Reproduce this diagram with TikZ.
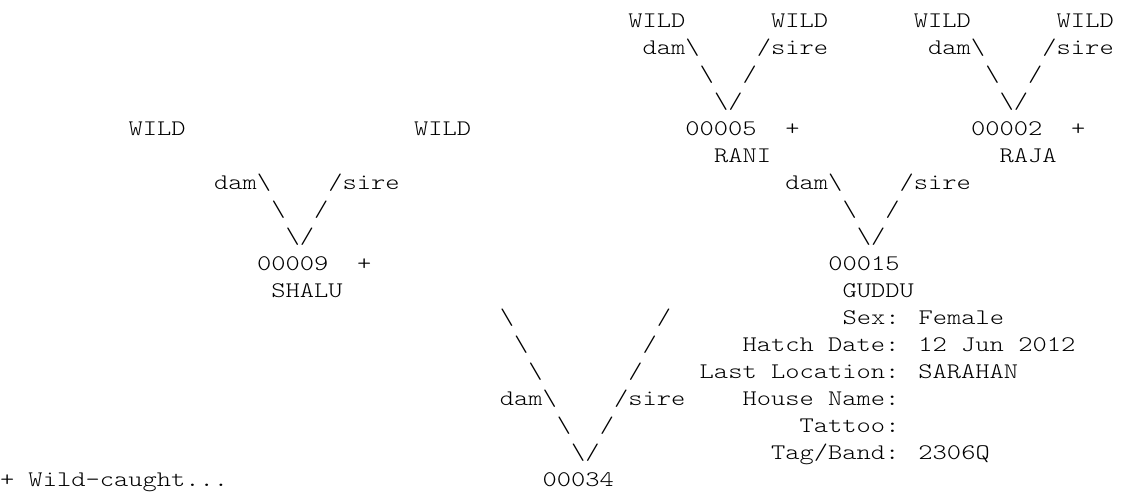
\documentclass[tikz,border=0pt]{standalone}
\usepackage{fontspec}
\newfontfamily\pedfont[FakeStretch=1.22]{lmmonolt10-regular.otf}
\newcommand\pbs{\symbol{92}}
\begin{document}
\begin{tikzpicture}[x={(10.71pt,0)},y={(0,-20.25pt)},
  t/.style={inner sep=0pt,outer sep=0pt,anchor=base west,text=black,
    font=\pedfont\fontsize{16.7pt}{20.25pt}\selectfont}]
\useasboundingbox (0pt,0pt) rectangle (840.75pt,-372pt);
% line 1: great-grandparents
\node[t] (gg1) at (44,1) {WILD};
\node[t] (gg2) at (54,1) {WILD};
\node[t] (gg3) at (64,1) {WILD};
\node[t] (gg4) at (74,1) {WILD};
% line 2
\node[t] (d5) at (45,2) {dam\pbs};
\node[t] (s5) at (53,2) {/sire};
\node[t] (d2) at (65,2) {dam\pbs};
\node[t] (s2) at (73,2) {/sire};
% line 3
\node[t] (l5a) at (49,3) {\pbs};
\node[t] (r5a) at (52,3) {/};
\node[t] (l2a) at (69,3) {\pbs};
\node[t] (r2a) at (72,3) {/};
% line 4
\node[t] (v5) at (50,4) {\pbs/};
\node[t] (v2) at (70,4) {\pbs/};
% line 5: grandparents
\node[t] (w1) at (9,5) {WILD};
\node[t] (w2) at (29,5) {WILD};
\node[t] (id5) at (48,5) {00005};
\node[t] (p5) at (55,5) {+};
\node[t] (id2) at (68,5) {00002};
\node[t] (p2) at (75,5) {+};
% line 6
\node[t] (rani) at (50,6) {RANI};
\node[t] (raja) at (70,6) {RAJA};
% line 7
\node[t] (d9) at (15,7) {dam\pbs};
\node[t] (s9) at (23,7) {/sire};
\node[t] (d15) at (55,7) {dam\pbs};
\node[t] (s15) at (63,7) {/sire};
% line 8
\node[t] (l9a) at (19,8) {\pbs};
\node[t] (r9a) at (22,8) {/};
\node[t] (l15a) at (59,8) {\pbs};
\node[t] (r15a) at (62,8) {/};
% line 9
\node[t] (v9) at (20,9) {\pbs/};
\node[t] (v15) at (60,9) {\pbs/};
% line 10: parents
\node[t] (id9) at (18,10) {00009};
\node[t] (p9) at (25,10) {+};
\node[t] (id15) at (58,10) {00015};
% line 11
\node[t] (shalu) at (19,11) {SHALU};
\node[t] (guddu) at (59,11) {GUDDU};
% lines 12-17: connector to subject and info block
\node[t] (l34a) at (35,12) {\pbs};
\node[t] (r34a) at (46,12) {/};
\node[t] (sex) at (59,12) {Sex: Female};
\node[t] (l34b) at (36,13) {\pbs};
\node[t] (r34b) at (45,13) {/};
\node[t] (hatch) at (52,13) {Hatch Date: 12 Jun 2012};
\node[t] (l34c) at (37,14) {\pbs};
\node[t] (r34c) at (44,14) {/};
\node[t] (loc) at (49,14) {Last Location: SARAHAN};
\node[t] (d34) at (35,15) {dam\pbs};
\node[t] (s34) at (43,15) {/sire};
\node[t] (house) at (52,15) {House Name:};
\node[t] (l34e) at (39,16) {\pbs};
\node[t] (r34e) at (42,16) {/};
\node[t] (tattoo) at (56,16) {Tattoo:};
\node[t] (v34) at (40,17) {\pbs/};
\node[t] (tag) at (54,17) {Tag/Band: 2306Q};
% line 18: subject
\node[t] (legend) at (0,18) {+ Wild-caught...};
\node[t] (id34) at (38,18) {00034};
\end{tikzpicture}
\end{document}
